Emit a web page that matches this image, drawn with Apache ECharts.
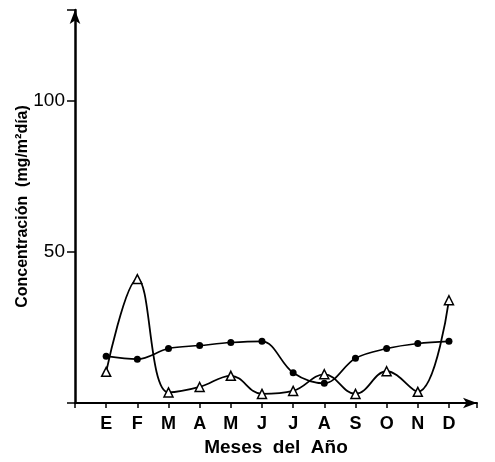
<!DOCTYPE html>
<html>
<head>
<meta charset="utf-8">
<script src="https://cdn.jsdelivr.net/npm/echarts@6/dist/echarts.min.js"></script>
<style>
html,body{margin:0;padding:0;background:#fff;}
#chart{width:495px;height:462px;}
</style>
</head>
<body>
<div id="chart"></div>
<script>
// meses y valores
var meses = ['E','F','M','A','M','J','J','A','S','O','N','D'];
var circulos = [15.5, 14.5, 18, 19, 20, 20.4, 10, 6.5, 14.8, 18, 19.7, 20.4];
var triangulos = [10.3, 41, 3.5, 5.3, 9, 3, 4, 9.5, 3, 10.5, 3.7, 34];
var yTicks = [50, 100];

function toPts(arr){
	var out = [];
	for(var i=0;i<arr.length;i++){
		out.push([i, arr[i]]);
	}
	return out;
}

var myChart = echarts.init(document.getElementById('chart'));
var fuente = 'Liberation Sans';
var option = {
	animation:false,
	backgroundColor:'#fff',
	grid:{left:75, right:18, top:10, bottom:54},
	xAxis:{
		type:'value',
		min:-1,
		max:11.9,
		interval:1,
		name:'Meses  del  Año',
		nameLocation:'middle',
		nameGap:35,
		nameTextStyle:{color:'#000', fontFamily:fuente, fontSize:19, fontWeight:'bold'},
		axisLine:{onZero:false, lineStyle:{color:'#000', width:2}, symbol:['none','arrow'], symbolSize:[8,14]},
		axisTick:{show:true, length:5, lineStyle:{color:'#000', width:1.5}},
		axisLabel:{
			color:'#000', fontFamily:fuente, fontSize:18, fontWeight:'bold', margin:12,
			formatter:function(v){ return (v>=0 && v<meses.length) ? meses[v] : ''; }
		},
		splitLine:{show:false}
	},
	yAxis:{
		type:'value',
		min:0,
		max:130,
		interval:50,
		name:'Concentración  (mg/m²día)',
		nameLocation:'middle',
		nameGap:44,
		nameMoveOverlap:false,
		nameTextStyle:{color:'#000', fontFamily:fuente, fontSize:16, fontWeight:'bold'},
		axisLine:{show:true, onZero:false, lineStyle:{color:'#000', width:2.5}, symbol:['none','arrow'], symbolSize:[8,14]},
		axisTick:{show:true, length:8, lineStyle:{color:'#000', width:1.5}},
		axisLabel:{
			color:'#000', fontFamily:fuente, fontSize:19, margin:10,
			formatter:function(v){ return yTicks.indexOf(v)>=0 ? v : ''; }
		},
		splitLine:{show:false}
	},
	series:[
		{
			type:'line',
			data:toPts(circulos),
			smooth:0.35,
			symbol:'circle',
			symbolSize:7,
			itemStyle:{color:'#000'},
			lineStyle:{color:'#000', width:1.6}
		},
		{
			type:'line',
			data:toPts(triangulos),
			smooth:0.4,
			symbol:'triangle',
			symbolSize:9,
			itemStyle:{color:'#fff', borderColor:'#000', borderWidth:1.5},
			lineStyle:{color:'#000', width:1.8}
		}
	]
};
myChart.setOption(option);
</script>
</body>
</html>
